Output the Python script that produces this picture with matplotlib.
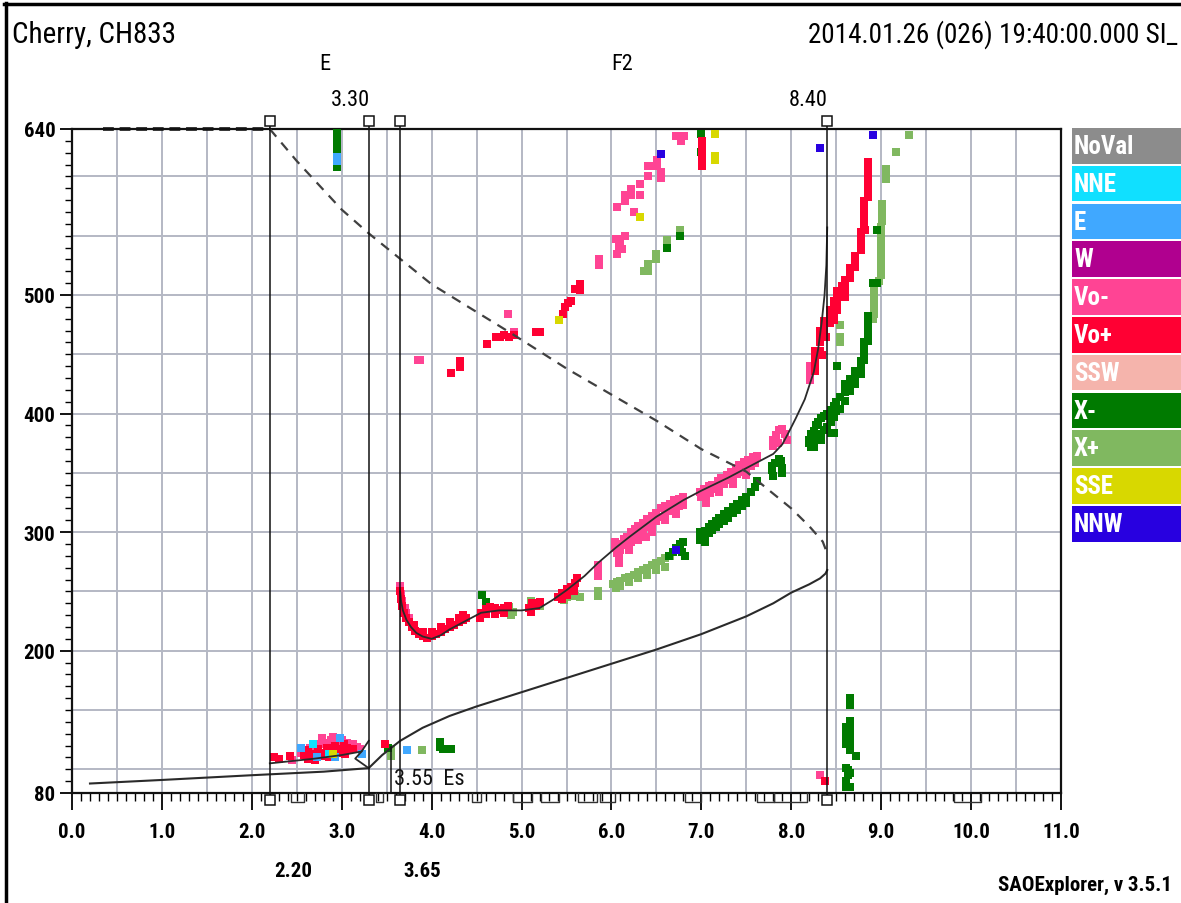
import matplotlib
matplotlib.use('Agg')
import matplotlib.pyplot as plt
from matplotlib import font_manager as fm
from matplotlib.patches import Rectangle
from matplotlib.lines import Line2D
import numpy as np

avail = {f.name for f in fm.fontManager.ttflist}
FONT = next((f for f in ['Liberation Sans Narrow', 'Arial Narrow', 'Roboto Condensed',
                         'DejaVu Sans Condensed', 'Liberation Sans'] if f in avail), 'DejaVu Sans')
plt.rcParams['font.family'] = [FONT, 'DejaVu Sans']

# ---------------- data ----------------
categories = ['NoVal', 'NNE', 'E', 'W', 'Vo-', 'Vo+', 'SSW', 'X-', 'X+', 'SSE', 'NNW']
cat_colors = ['#8C8C8C', '#10E0FF', '#40A8FF', '#B0008F', '#FF4494', '#FF0033',
              '#F5B4AC', '#007A00', '#80B860', '#D8D800', '#2800E0']

x_ticks = [0, 1, 2, 3, 4, 5, 6, 7, 8, 9, 10, 11]
x_ticklabels = ['0.0', '1.0', '2.0', '3.0', '4.0', '5.0', '6.0', '7.0', '8.0', '9.0', '10.0', '11.0']
y_ticks = [80, 200, 300, 400, 500, 640]
y_ticklabels = ['80', '200', '300', '400', '500', '640']

# echo points (frequency MHz, virtual height km)
vo_plus_f = [2.25, 2.3, 2.42, 2.58, 2.62, 2.66, 2.7, 2.74, 2.8, 2.84, 2.88, 2.92, 2.97, 3.02, 3.06, 3.12, 3.48,
             2.62, 2.7, 2.78, 2.86, 2.95, 3.04,
             7.01, 7.01, 7.01, 7.01, 7.01,
             4.21, 4.31, 4.31, 4.62, 4.72, 4.76, 4.8, 4.86, 4.92, 5.16, 5.21, 5.46, 5.48, 5.52, 5.55, 5.6, 5.65, 5.65,
             3.65, 3.66, 3.67, 3.69, 3.72, 3.75, 3.78, 3.82, 3.86, 3.9, 3.95, 4.0, 4.05, 4.1, 4.15, 4.2, 4.25, 4.3,
             4.35, 4.38, 3.8, 3.9, 4.0, 4.1, 4.2, 4.3, 4.35,
             4.55, 4.6, 4.65, 4.7, 4.75, 4.8, 4.85, 4.6, 4.7, 4.8, 4.54,
             5.08, 5.12, 5.16, 5.2, 5.1,
             5.4, 5.45, 5.5, 5.55, 5.6, 5.62, 5.45, 5.5, 5.58,
             8.85, 8.85, 8.85, 8.85, 8.85, 8.85, 8.85,
             8.81, 8.81, 8.81, 8.81, 8.81, 8.82,
             8.77, 8.77, 8.77, 8.77, 8.71, 8.71, 8.71, 8.65, 8.65, 8.65,
             8.6, 8.6, 8.6, 8.6, 8.56, 8.56, 8.56, 8.51, 8.51, 8.51, 8.51,
             8.47, 8.47, 8.47, 8.47, 8.47, 8.43, 8.43, 8.43, 8.36, 8.36, 8.36, 8.39,
             8.32, 8.32, 8.32, 8.32, 8.34, 8.26, 8.26, 8.26, 8.26, 8.37]
vo_plus_h = [110, 109, 111, 112, 116, 112, 113, 117, 114, 118, 115, 120, 117, 121, 118, 117, 121,
             109, 108, 111, 110, 114, 113,
             630, 625, 620, 614, 609,
             434, 444, 439, 459, 465, 465, 466, 465, 466, 469, 469, 484, 490, 493, 495, 505, 509, 504,
             250, 244, 238, 232, 228, 224, 220, 217, 214, 212, 211, 212, 214, 216, 218, 220, 222, 224,
             226, 228, 222, 216, 216, 220, 224, 228, 230,
             232, 235, 237, 236, 234, 236, 238, 231, 231, 232, 228,
             236, 240, 238, 241, 233,
             245, 249, 252, 254, 257, 261, 244, 247, 250,
             612, 607, 602, 597, 592, 587, 583,
             579, 574, 569, 564, 560, 555,
             553, 548, 543, 538, 533, 528, 524, 523, 518, 514,
             513, 508, 503, 498, 508, 503, 498, 503, 498, 493, 487,
             495, 490, 485, 482, 479, 487, 482, 476, 478, 473, 468, 465,
             470, 465, 460, 453, 449, 453, 448, 443, 436, 90]

vo_minus_f = [2.55, 2.7, 2.76, 2.82, 2.88, 2.94, 3.0, 3.06, 3.12, 3.17, 3.2, 2.65, 2.45, 2.78, 2.9,
              3.85, 3.87, 4.85, 4.92, 5.86, 5.86, 6.05, 6.08, 6.08, 6.1, 6.12, 6.06, 6.15, 6.06, 6.15, 6.15,
              6.22, 6.22, 6.32, 6.32, 6.41, 6.41, 6.46, 6.51, 6.51, 6.55, 6.55, 6.72, 6.77, 6.81, 6.25,
              3.65, 3.66, 3.67, 3.7, 3.72, 3.75,
              5.85, 5.85, 5.85, 6.04, 6.04, 6.06, 6.08, 6.1, 6.14, 6.17, 6.22, 6.26, 6.3, 6.35, 6.4, 6.45,
              6.5, 6.55, 6.6, 6.65, 6.7, 6.75, 6.8,
              6.1, 6.17, 6.22, 6.26, 6.3, 6.35, 6.4, 6.45, 6.5, 6.55, 6.6, 6.65, 6.7, 6.75, 6.8,
              6.08, 6.2, 6.3, 6.38, 6.45, 6.6, 6.72,
              6.99, 7.03, 7.08, 7.12, 7.18, 7.22, 7.28, 7.33, 7.38, 7.42, 7.47, 7.52, 7.57, 7.62,
              7.0, 7.05, 7.1, 7.15, 7.2, 7.25, 7.3, 7.35, 7.4, 7.45, 7.5, 7.55, 7.6,
              7.05, 7.2, 7.35, 7.5,
              7.8, 7.8, 7.83, 7.86, 7.9, 7.93, 7.85, 7.95,
              8.21, 8.21, 8.21, 8.32]
vo_minus_h = [114, 120, 121, 122, 125, 123, 125, 122, 121, 119, 117, 118, 108, 126, 127,
              445, 445, 484, 469, 530, 525, 547, 547, 541, 543, 539, 535, 550, 574, 584, 579,
              589, 584, 594, 584, 600, 609, 609, 609, 614, 604, 599, 634, 630, 634, 570,
              255, 248, 242, 236, 232, 228,
              272, 267, 263, 292, 287, 282, 278, 290, 294, 296, 300, 303, 305, 308, 311, 314,
              316, 320, 322, 324, 327, 328, 330,
              285, 289, 292, 296, 298, 301, 304, 307, 309, 313, 315, 318, 320, 322, 323,
              274, 285, 293, 296, 300, 310, 315,
              334, 336, 339, 340, 343, 346, 348, 351, 354, 357, 359, 361, 363, 364,
              330, 331, 333, 336, 339, 341, 344, 346, 349, 351, 354, 356, 358,
              325, 334, 341, 348,
              373, 378, 382, 386, 387, 383, 375, 378,
              440, 435, 428, 95]

x_minus_f = [2.95, 2.95, 2.95, 2.95, 2.95, 2.95,
             3.52, 4.09, 4.09, 4.13, 4.18, 4.22,
             7.0, 7.0, 6.62, 6.76, 4.56, 4.61,
             6.64, 6.68, 6.72, 6.76, 6.8, 6.78, 6.82,
             6.99, 6.99, 6.99, 7.04, 7.08, 7.12, 7.16, 7.2, 7.25, 7.3, 7.35, 7.4, 7.45, 7.5, 7.55, 7.6, 7.62,
             7.04, 7.08, 7.12, 7.16, 7.2, 7.25, 7.3, 7.35, 7.4, 7.45, 7.5, 7.04,
             7.79, 7.79, 7.82, 7.86, 7.89, 7.9, 7.9, 7.8,
             8.2, 8.22, 8.25, 8.28, 8.3, 8.33, 8.36, 8.4, 8.44, 8.47, 8.5, 8.54, 8.6, 8.6, 8.6,
             8.65, 8.65, 8.65, 8.71, 8.71, 8.71, 8.77, 8.77, 8.77, 8.81, 8.81, 8.81, 8.81,
             8.85, 8.85, 8.85, 8.85, 8.85, 8.91, 8.95, 8.95,
             8.2, 8.25, 8.3, 8.33, 8.36, 8.4, 8.44, 8.47, 8.5, 8.54,
             8.22, 8.25, 8.33, 8.44, 8.47, 8.51,
             8.65, 8.65, 8.65, 8.65, 8.65, 8.65, 8.65, 8.65, 8.61, 8.61, 8.61, 8.61, 8.72,
             8.61, 8.63, 8.65, 8.63, 8.61, 8.61, 8.65]
x_minus_h = [637, 633, 628, 623, 612, 608,
             118, 123, 119, 117, 117, 117,
             636, 621, 540, 550, 247, 241,
             280, 283, 287, 290, 292, 283, 280,
             300, 296, 293, 301, 304, 307, 309, 312, 315, 318, 321, 324, 327, 330, 334, 338, 343,
             296, 299, 302, 304, 307, 309, 312, 316, 319, 322, 325, 292,
             352, 356, 358, 362, 360, 354, 350, 347,
             378, 383, 385, 390, 393, 396, 398, 400, 403, 406, 410, 414, 425, 418, 411,
             429, 423, 419, 436, 430, 425, 444, 438, 433, 460, 455, 450, 445,
             482, 477, 472, 467, 461, 510, 510, 555,
             375, 378, 380, 383, 386, 389, 393, 397, 402, 404,
             372, 372, 378, 384, 384, 440,
             160, 154, 141, 136, 131, 126, 121, 116, 136, 131, 126, 121, 111,
             101, 99, 97, 95, 90, 85, 85]

x_plus_f = [2.95, 6.36, 6.41, 6.41, 6.5, 6.5, 6.62, 6.76, 9.31, 9.17, 9.05, 9.05, 9.05,
            9.01, 9.01, 9.01, 9.01, 9.0, 9.0, 9.0, 9.0, 9.0, 9.0, 9.0, 9.0, 9.0, 8.98,
            8.92, 8.92, 8.92, 8.92, 8.92, 8.91, 8.54, 8.54, 8.54,
            3.55, 3.55, 3.89,
            4.86, 4.9, 4.88, 5.1, 5.15, 5.2, 5.55, 5.6, 5.65, 5.85, 5.85,
            6.02, 6.06, 6.1, 6.15, 6.2, 6.25, 6.3, 6.35, 6.4, 6.45, 6.5, 6.55, 6.6, 6.65,
            6.05, 6.1, 6.2, 6.3, 6.4, 6.5, 6.6, 5.45, 5.5, 5.47]
x_plus_h = [631, 520, 520, 526, 535, 530, 546, 555, 635, 621, 606, 602, 598,
            577, 572, 567, 562, 557, 552, 547, 542, 537, 532, 527, 522, 517, 512,
            504, 499, 494, 489, 484, 480, 475, 465, 460,
            111, 117, 116,
            237, 233, 230, 242, 240, 238, 248, 246, 245, 250, 246,
            256, 258, 259, 261, 262, 264, 266, 268, 270, 272, 274, 276, 278, 280,
            253, 255, 258, 261, 264, 268, 271, 246, 245, 243]

e_dir_f = [2.95, 2.95, 2.55, 2.72, 2.92, 3.22, 3.73, 2.98]
e_dir_h = [616, 613, 118, 110, 110, 113, 116, 126]
nne_f = [2.68, 2.86]
nne_h = [121, 113]
sse_f = [2.9, 5.42, 6.32, 7.15, 7.15, 7.15]
sse_h = [113, 479, 566, 636, 617, 614]
nnw_f = [6.55, 8.32, 8.91, 6.72]
nnw_h = [619, 624, 635, 285]

# fitted O-trace (virtual heights)
e_trace_f = [2.2, 2.45, 2.7, 3.0, 3.22, 3.3]
e_trace_h = [105, 107, 109, 112, 115, 124]
hook_f = [3.22, 3.15, 3.3]
hook_h = [115, 109, 101]
f_trace_f = [3.65, 3.66, 3.68, 3.72, 3.77, 3.83, 3.9, 4.0, 4.1, 4.2, 4.4, 4.55, 4.75, 5.0, 5.2, 5.35,
             5.5, 5.7, 5.85, 6.05, 6.2, 6.5, 6.8, 7.0, 7.3, 7.5, 7.65, 7.8, 7.9, 7.97, 8.05, 8.15,
             8.25, 8.3, 8.34, 8.37, 8.39, 8.4]
f_trace_h = [250, 242, 234, 226, 220, 215, 212, 210, 213, 218, 226, 232, 234, 234, 236, 243,
             251, 263, 274, 287, 296, 313, 327, 335, 346, 354, 360, 366, 374, 384, 396, 412,
             435, 455, 478, 500, 525, 557]
# true-height profile
prof_f = [0.2, 1.0, 2.0, 2.8, 3.3, 3.45, 3.65, 3.9, 4.2, 4.5, 5.0, 5.5, 6.0, 6.5, 7.0, 7.5,
          7.8, 8.0, 8.2, 8.32, 8.38, 8.4]
prof_h = [88, 91, 95, 98, 101, 112, 124, 135, 145, 153, 165, 177, 189, 201, 214, 229,
          240, 249, 256, 261, 265, 268]
# topside (dashed)
top_f = [2.2, 2.5, 3.0, 3.3, 4.0, 4.9, 5.5, 6.5, 7.0, 7.5, 8.0, 8.2, 8.35, 8.4]
top_h = [640, 613, 572, 552, 509, 467, 438, 394, 370, 351, 320, 305, 292, 282]
top_flat_f = [0.35, 2.2]
top_flat_h = [640, 640]

markers_f = [2.20, 3.30, 3.65, 8.40]
es_freq = 3.55
bracket_ranges = [(2.44, 2.58), (3.38, 3.46), (4.45, 4.55), (4.9, 5.12), (5.22, 5.42),
                  (5.63, 5.84), (5.87, 6.04), (6.82, 7.0), (7.62, 7.81), (7.81, 8.18),
                  (9.81, 10.11)]

# ---------------- figure ----------------
W, H = 1181, 904
fig = plt.figure(figsize=(W / 100, H / 100), dpi=100)
fig.patch.set_facecolor('white')

def fx(px):
    return px / W

def fy(py):
    return 1 - py / H

ax = fig.add_axes([fx(72), fy(794), (1061 - 72) / W, (794 - 130) / H])
ax.set_xlim(0, 11)
ax.set_ylim(80, 640)

grid_col = '#B4B8C4'
for v in np.arange(0.5, 11, 0.5):
    ax.axvline(v, color=grid_col, lw=1.4, zorder=0)
for v in range(100, 640, 50):
    ax.axhline(v, color=grid_col, lw=1.4, zorder=0)

ax.set_xticks(x_ticks)
ax.set_xticklabels(x_ticklabels)
ax.set_xticks(np.arange(0, 11.001, 0.1), minor=True)
ax.set_yticks(y_ticks)
ax.set_yticklabels(y_ticklabels)
ax.set_yticks(np.arange(80, 641, 10), minor=True)
ax.tick_params(axis='x', which='major', direction='out', length=12, width=1.3, pad=9,
               labelsize=15)
ax.tick_params(axis='x', which='minor', direction='out', length=6, width=1.0)
ax.tick_params(axis='y', which='major', direction='out', length=9, width=1.3, pad=3,
               labelsize=15)
ax.tick_params(axis='y', which='minor', direction='out', length=5, width=1.0)
for lab in ax.get_xticklabels() + ax.get_yticklabels():
    lab.set_fontweight('bold')
for s in ax.spines.values():
    s.set_linewidth(1.6)
    s.set_color('#111111')

ms = 26
def pts(f, h, c, z=3):
    ax.scatter(f, h, s=ms, marker='s', color=c, linewidths=0, zorder=z)

cmap = dict(zip(categories, cat_colors))
pts(x_plus_f, x_plus_h, cmap['X+'])
pts(x_minus_f, x_minus_h, cmap['X-'])
pts(vo_minus_f, vo_minus_h, cmap['Vo-'])
pts(vo_plus_f, vo_plus_h, cmap['Vo+'])
pts(e_dir_f, e_dir_h, cmap['E'])
pts(nne_f, nne_h, cmap['NNE'])
pts(sse_f, sse_h, cmap['SSE'])
pts(nnw_f, nnw_h, cmap['NNW'])

lc = '#2A2A2A'
ax.plot(e_trace_f, e_trace_h, color=lc, lw=1.3, zorder=5)
ax.plot(hook_f, hook_h, color=lc, lw=1.3, zorder=5)
ax.plot(f_trace_f, f_trace_h, color=lc, lw=1.3, zorder=5)
ax.plot(prof_f, prof_h, color=lc, lw=1.5, zorder=5)
ax.plot(top_f, top_h, color='#404040', lw=1.6, ls=(0, (4.5, 3.5)), zorder=5)
ax.plot(top_flat_f, top_flat_h, color='#111111', lw=2.6, ls=(0, (3, 1.6)), zorder=6,
        clip_on=False)

tr = ax.get_xaxis_transform()
for m in markers_f:
    ax.plot([m, m], [-0.004, 1.004], transform=tr, color='#111111', lw=1.1, zorder=6,
            clip_on=False)
    ax.plot([m], [1.012], transform=tr, marker='s', ms=7, mfc='white', mec='#111111',
            mew=1.1, clip_on=False, zorder=7)
    ax.plot([m], [-0.011], transform=tr, marker='s', ms=7, mfc='white', mec='#111111',
            mew=1.1, clip_on=False, zorder=7)
for a, b in bracket_ranges:
    ax.plot([a, a, b, b], [0, -0.013, -0.013, 0], transform=tr, color='#333333', lw=1.0,
            clip_on=False, zorder=4)
ax.plot([es_freq, es_freq], [80, 119], color='#111111', lw=1.1, zorder=6)
ax.text(3.58, 92, '3.55  Es', fontsize=16, ha='left', va='center', color='#111111')

# texts
fig.text(fx(12), fy(35), 'Cherry, CH833', fontsize=21, ha='left', va='center')
fig.text(fx(808), fy(35), '2014.01.26 (026) 19:40:00.000 SI_', fontsize=19.5, ha='left',
         va='center')
fig.text(fx(325), fy(65), 'E', fontsize=16, ha='center', va='center')
fig.text(fx(622), fy(65), 'F2', fontsize=16, ha='center', va='center')
fig.text(fx(350), fy(100), '3.30', fontsize=16, ha='center', va='center')
fig.text(fx(808), fy(100), '8.40', fontsize=16, ha='center', va='center')
fig.text(fx(293), fy(872), '2.20', fontsize=15, ha='center', va='center', fontweight='bold')
fig.text(fx(422), fy(872), '3.65', fontsize=15, ha='center', va='center', fontweight='bold')
fig.text(fx(998), fy(885), 'SAOExplorer, v 3.5.1', fontsize=15, ha='left', va='center',
         fontweight='bold')

# legend boxes
for i, (c, col) in enumerate(zip(categories, cat_colors)):
    top = 129 + i * 37.8
    fig.patches.append(Rectangle((fx(1072), fy(top + 35.5)), (W - 1072) / W, 35.5 / H,
                                 transform=fig.transFigure, facecolor=col, edgecolor='none'))
    fig.text(fx(1074), fy(top + 18), c, fontsize=18, fontweight='bold', color='white',
             ha='left', va='center')

# outer frame (top and left)
fig.add_artist(Line2D([fx(6), fx(6)], [fy(4), 0], color='black', lw=2.5))
fig.add_artist(Line2D([fx(4), 1], [fy(5), fy(5)], color='black', lw=2.5))

fig.savefig('out.png', dpi=100)
